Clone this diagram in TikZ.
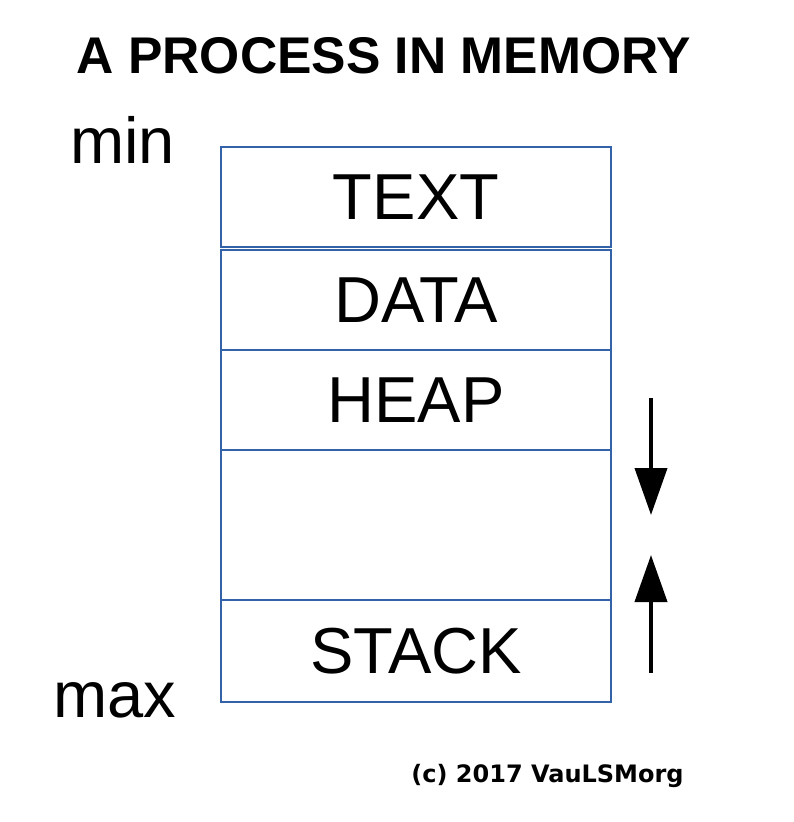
\documentclass[tikz,border=0pt]{standalone}
\usepackage{fontspec}
\setmainfont{Liberation Sans}
\newfontfamily\credfont{DejaVu Sans}
\usetikzlibrary{arrows.meta,positioning}
\definecolor{segblue}{RGB}{52,98,168}

\begin{document}
\begin{tikzpicture}[x=1pt,y=-1pt,node distance=0pt,
  seg node/.style={rectangle,draw=segblue,line width=2pt,outer sep=0pt,inner sep=0pt,
    minimum width=390pt,minimum height=100pt,
    font=\fontsize{65}{65}\selectfont,text height=46.5pt,text depth=0pt},
  side node/.style={anchor=base,inner sep=0pt,font=\fontsize{65}{65}\selectfont},
  grow arrow/.style={line width=4pt,-{Triangle[length=47pt,width=32pt]}}]

  \useasboundingbox (0,0) rectangle (794,822);

  \node[anchor=base,inner sep=0pt,font=\bfseries\fontsize{51.6}{52}\selectfont] (title) at (384,73) {A PROCESS IN MEMORY};

  \node[seg node] (text) at (416,196.5) {TEXT};
  \node[seg node] (data) [below=3pt of text] {DATA};
  \node[seg node] (heap) [below=of data] {HEAP};
  \node[seg node,minimum height=150pt] (free) [below=of heap] {};
  \node[seg node,minimum height=102pt] (stack) [below=of free] {STACK};

  \node[side node] (min) at (122.5,163) {min};
  \node[side node] (max) at (115,717) {max};

  \coordinate (heaptail) at (651,398);
  \coordinate (heaptip) at (651,515);
  \coordinate (stacktail) at (651,673);
  \coordinate (stacktip) at (651,555);
  \draw [grow arrow] (heaptail) to (heaptip);
  \draw [grow arrow] (stacktail) to (stacktip);

  \node[anchor=base,inner sep=0pt,font=\credfont\bfseries\fontsize{24}{24}\selectfont] (credit) at (547.5,782) {(c) 2017 VauLSMorg};
\end{tikzpicture}
\end{document}
